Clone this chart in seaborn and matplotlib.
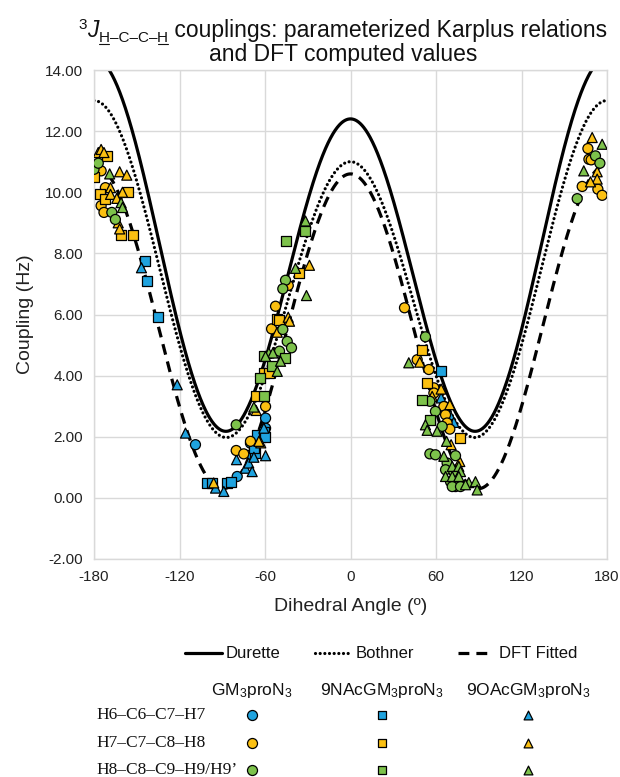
import numpy as np
import pandas as pd
import matplotlib
matplotlib.use("Agg")
import matplotlib.pyplot as plt
import seaborn as sns

sns.set_theme(style="white")
plt.rcParams["font.family"] = ["Liberation Sans", "DejaVu Sans"]
plt.rcParams["mathtext.fontset"] = "custom"
plt.rcParams["mathtext.rm"] = "Liberation Sans"
plt.rcParams["mathtext.it"] = "Liberation Sans:italic"
plt.rcParams["axes.unicode_minus"] = False

# ---- Karplus coefficients: J = A cos^2(t) + B cos(t) + C ----
DURETTE = (11.2, -1.0, 2.2)
BOTHNER = (10.0, -1.0, 2.0)
DFT_FIT = (10.45, -0.15, 0.3)

# ---- DFT computed couplings (dihedral angle in degrees, J in Hz) ----
# H6-C6-C7-H7
h6_gm3_ang = [-108.8, -79.5, -70.2, -59.6, -59.6]
h6_gm3_j = [1.74, 0.70, 1.79, 2.28, 2.61]
h6_nac_ang = [-144.3, -142.7, -135.0, -100.6, -97.0, -86.6, -84.2, -69.0, -66.7,
              -68.0, -65.5, -60.8, -60.1, -67.8, 63.2]
h6_nac_j = [7.75, 7.09, 5.92, 0.48, 0.50, 0.50, 0.53, 1.41, 1.47,
            1.68, 2.07, 2.17, 2.00, 1.63, 4.14]
h6_oac_ang = [-146.7, -121.6, -115.8, -94.7, -88.9, -73.7, -71.4, -69.0, -80.0,
              -59.6, -60.8, -67.8, 63.6, 69.7, 72.5]
h6_oac_j = [7.53, 3.70, 2.12, 0.32, 0.21, 0.97, 1.14, 0.86, 1.25,
            1.38, 2.28, 1.33, 3.27, 2.72, 2.47]

# H7-C7-C8-H8
h7_gm3_ang = [-175.0, -172.0, -175.0, -173.0, -80.2, -74.9, -70.2, -59.6, -52.6,
              -43.7, -55.4, 37.9, 46.8, 55.0, 58.5, 58.5, 65.5, 66.7, 67.8, 69.7,
              166.6, 167.3, 168.9, 162.6, 173.6, 176.6]
h7_gm3_j = [10.70, 10.15, 9.56, 9.34, 1.55, 1.44, 1.85, 2.99, 6.27,
            6.95, 5.53, 6.22, 4.52, 4.20, 3.60, 3.43, 2.99, 2.72, 2.45, 2.25,
            11.43, 11.08, 11.06, 10.19, 10.10, 9.90]
h7_nac_ang = [-171.0, -180.0, -176.0, -156.0, -172.0, -161.0, -152.5, -66.0, -60.8,
              -51.4, -36.3, -50.3, -57.3, 50.3, 53.8, 76.5]
h7_nac_j = [11.20, 10.50, 9.93, 10.00, 9.77, 8.60, 8.60, 3.34, 4.09,
            5.84, 7.37, 5.81, 4.09, 4.83, 3.76, 1.96]
h7_oac_ang = [-177.0, -175.0, -173.0, -162.0, -157.0, -168.4, -168.4, -160.0, -164.0,
              -163.0, -162.0, -63.0, -66.2, -64.3, -96.0, -28.8, -43.7, -42.8, -51.4,
              48.6, 63.6, 57.3, 69.7, 70.6, 76.7, 169.6, 173.1, 173.1, 168.4]
h7_oac_j = [11.30, 11.40, 11.30, 10.67, 10.56, 10.15, 9.93, 10.00, 9.80,
            9.00, 8.80, 1.80, 2.86, 1.85, 0.49, 7.61, 5.91, 5.78, 5.42,
            4.44, 3.56, 3.32, 3.05, 1.74, 1.19, 11.79, 10.67, 10.43, 10.34]

# H8-C8-C9-H9/H9'
h8_gm3_ang = [-180.0, -177.0, -167.5, -165.0, -80.2, -45.6, -47.5, -47.5, -44.4,
              -41.4, -49.8, 52.6, 55.7, 59.6, 64.3, 55.7, 59.6, 73.7, 67.8, 66.7,
              72.5, 70.2, 73.7, 71.4, 77.2, 171.9, 175.0, 159.1]
h8_gm3_j = [10.75, 10.95, 9.34, 9.11, 2.39, 7.12, 6.84, 5.51, 5.12,
            4.91, 4.80, 5.27, 3.16, 2.83, 2.34, 1.44, 1.41, 1.38, 1.14, 0.92,
            0.86, 0.53, 0.37, 0.37, 0.37, 11.19, 10.95, 9.79]
h8_nac_ang = [-60.4, -63.2, -60.8, -32.1, -45.1, -46.1, -55.0, 50.3, 56.1]
h8_nac_j = [3.34, 3.92, 4.63, 8.73, 8.40, 4.58, 4.30, 3.21, 2.56]
h8_oac_ang = [-169.0, -161.0, -160.0, -67.8, -57.3, -31.6, -38.6, -30.9, -54.5,
              -59.6, -49.1, -51.4, 40.9, 52.6, 53.8, 60.8, 67.4, 65.5, 71.4, 76.0,
              77.2, 66.7, 71.4, 76.0, 83.0, 87.7, 88.9, 80.7, 176.6, 163.7]
h8_oac_j = [10.60, 9.66, 9.50, 2.97, 4.74, 9.06, 7.51, 6.62, 4.74,
            4.63, 4.47, 4.14, 4.42, 2.39, 2.21, 2.18, 1.85, 1.36, 1.03, 1.03,
            0.86, 0.70, 0.70, 0.70, 0.50, 0.53, 0.26, 0.43, 11.57, 10.70]

fragments = ["H6–C6–C7–H7", "H7–C7–C8–H8", "H8–C8–C9–H9/H9’"]
compounds = ["GM$_3$proN$_3$", "9NAcGM$_3$proN$_3$", "9OAcGM$_3$proN$_3$"]
frag_colors = ["#1FA3DF", "#FBC012", "#7DC24B"]
comp_markers = ["o", "s", "^"]

series = [
    (0, 0, h6_gm3_ang, h6_gm3_j), (0, 1, h6_nac_ang, h6_nac_j), (0, 2, h6_oac_ang, h6_oac_j),
    (1, 0, h7_gm3_ang, h7_gm3_j), (1, 1, h7_nac_ang, h7_nac_j), (1, 2, h7_oac_ang, h7_oac_j),
    (2, 0, h8_gm3_ang, h8_gm3_j), (2, 1, h8_nac_ang, h8_nac_j), (2, 2, h8_oac_ang, h8_oac_j),
]
rows = []
for fi, ci, angs, js in series:
    for a, j in zip(angs, js):
        rows.append({"angle": a, "coupling": j,
                     "fragment": fragments[fi], "compound": compounds[ci]})
df = pd.DataFrame(rows)

W, H = 620, 777
fig = plt.figure(figsize=(W / 100, H / 100), dpi=100)
ax = fig.add_axes([94 / W, 1 - 559 / H, (607 - 94) / W, (559 - 70) / H])

# Karplus curves
theta = np.linspace(-180, 180, 1441)
c = np.cos(np.radians(theta))
def karplus(coef):
    a, b, k = coef
    return a * c ** 2 + b * c + k

LW = 2.3
DOTS = (0, (0.01, 1.45))
DASHES = (0, (3.4, 2.2))
ax.plot(theta, karplus(DURETTE), color="black", lw=LW, zorder=2)
ax.plot(theta, karplus(BOTHNER), color="black", lw=LW, zorder=2,
        linestyle=DOTS, dash_capstyle="round")
ax.plot(theta, karplus(DFT_FIT), color="black", lw=LW, zorder=2, linestyle=DASHES)

sns.scatterplot(data=df, x="angle", y="coupling", hue="fragment", style="compound",
                palette=dict(zip(fragments, frag_colors)),
                markers=dict(zip(compounds, comp_markers)),
                hue_order=fragments, style_order=compounds,
                s=52, edgecolor="black", linewidth=0.9, legend=False, ax=ax, zorder=3)

ax.set_xlim(-180, 180)
ax.set_ylim(-2, 14)
ax.set_xticks(np.arange(-180, 181, 60))
ax.set_yticks(np.arange(-2, 14.1, 2))
ax.set_yticklabels([f"{v:.2f}" for v in np.arange(-2, 14.1, 2)])
ax.grid(True, color="#D9D9D9", lw=1)
ax.set_axisbelow(True)
for sp in ax.spines.values():
    sp.set_color("#D9D9D9")
    sp.set_linewidth(1)
ax.tick_params(length=0, labelsize=11, labelcolor="#222222")
ax.tick_params(axis="x", pad=8)
ax.tick_params(axis="y", pad=8)
ax.set_xlabel("Dihedral Angle (º)", fontsize=14, color="#222222", labelpad=10)
ax.set_ylabel("Coupling (Hz)", fontsize=14, color="#222222", labelpad=8)

# overlay in pixel coordinates for title and legend table
lax = fig.add_axes([0, 0, 1, 1], zorder=5)
lax.set_xlim(0, W)
lax.set_ylim(H, 0)
lax.axis("off")

fig.canvas.draw()
rend = fig.canvas.get_renderer()

# title, line 1 built from pieces so the subscript H atoms can be underlined
TS = 16.5
SS = 11
pieces = [("3", SS, -8, "normal", False), ("J", TS, 0, "italic", False),
          ("H", SS, 5, "normal", True), ("–C–C–", SS, 5, "normal", False),
          ("H", SS, 5, "normal", True),
          (" couplings: parameterized Karplus relations", TS, 0, "normal", False)]
base1 = 37
arts = []
total = 0
for s, fs, dy, st, ul in pieces:
    t = lax.text(0, base1 + dy, s, fontsize=fs, fontstyle=st, va="baseline",
                 ha="left", color="#111111")
    w = t.get_window_extent(rend).width
    arts.append((t, w, ul, dy))
    total += w
x = 343 - total / 2
for t, w, ul, dy in arts:
    t.set_x(x)
    if ul:
        lax.plot([x + 0.5, x + w - 0.5], [base1 + dy + 2, base1 + dy + 2],
                 color="#111111", lw=0.8)
    x += w
lax.text(343, 61, "and DFT computed values", fontsize=TS, ha="center",
         va="baseline", color="#111111")

# line legend
ly = 653
leg_lines = [((185, 222), dict(linestyle="-"), "Durette", 226),
             ((315, 352), dict(linestyle=DOTS, dash_capstyle="round"), "Bothner", 356),
             ((458, 490), dict(linestyle=DASHES), "DFT Fitted", 499)]
for (x0, x1), sty, lab, tx in leg_lines:
    lax.plot([x0, x1], [ly, ly], color="black", lw=LW, **sty)
    lax.text(tx, ly, lab, fontsize=12, va="center", ha="left", color="#111111")

# marker table
col_x = [252, 382, 528]
row_y = [715, 743, 770]
for cx, comp in zip(col_x, compounds):
    lax.text(cx, 690, comp, fontsize=12.5, ha="center", va="center", color="#111111")
for ry, frag, col in zip(row_y, fragments, frag_colors):
    lax.text(96, ry, frag, fontsize=12.5, ha="left", va="center",
             family=["Liberation Serif", "DejaVu Serif"], color="#111111")
    for cx, mk in zip(col_x, comp_markers):
        lax.scatter([cx], [ry], s=40 if mk != "o" else 52, marker=mk, color=col,
                    edgecolor="black", linewidth=0.9)

fig.savefig("out.png", dpi=100)
